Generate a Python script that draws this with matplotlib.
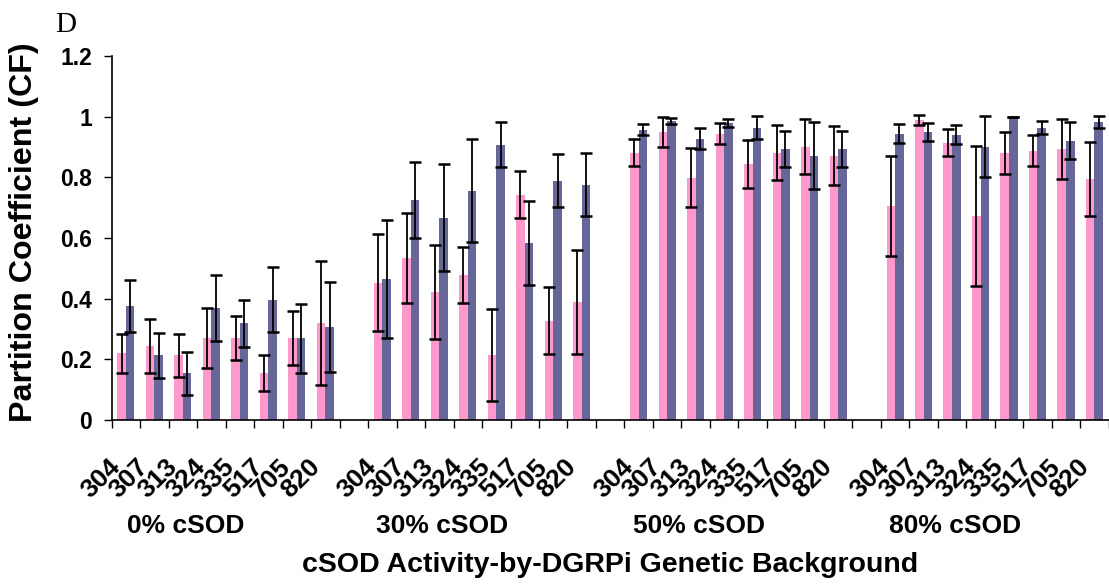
import matplotlib
matplotlib.use('Agg')
import matplotlib.pyplot as plt
import matplotlib.transforms as mtransforms
import numpy as np

strains = ['304', '307', '313', '324', '335', '517', '705', '820']
groups = ['0% cSOD', '30% cSOD', '50% cSOD', '80% cSOD']

# pink series (one value per strain, group after group)
pink_0 = [0.22, 0.244, 0.213, 0.27, 0.27, 0.154, 0.27, 0.32]
pink_30 = [0.452, 0.535, 0.422, 0.479, 0.215, 0.743, 0.327, 0.389]
pink_50 = [0.881, 0.95, 0.799, 0.944, 0.845, 0.881, 0.901, 0.871]
pink_80 = [0.706, 0.99, 0.914, 0.673, 0.881, 0.888, 0.894, 0.795]
pink_err_0 = [0.065, 0.09, 0.072, 0.098, 0.072, 0.06, 0.09, 0.205]
pink_err_30 = [0.16, 0.148, 0.155, 0.092, 0.152, 0.078, 0.11, 0.17]
pink_err_50 = [0.044, 0.05, 0.098, 0.035, 0.079, 0.091, 0.09, 0.097]
pink_err_80 = [0.164, 0.016, 0.045, 0.23, 0.07, 0.05, 0.098, 0.123]

# blue series
blue_0 = [0.376, 0.213, 0.154, 0.369, 0.319, 0.396, 0.27, 0.307]
blue_30 = [0.465, 0.726, 0.667, 0.756, 0.908, 0.583, 0.789, 0.776]
blue_50 = [0.957, 0.986, 0.927, 0.978, 0.964, 0.893, 0.871, 0.893]
blue_80 = [0.944, 0.95, 0.941, 0.901, 1.0, 0.964, 0.921, 0.983]
blue_err_0 = [0.085, 0.075, 0.07, 0.11, 0.078, 0.107, 0.114, 0.148]
blue_err_30 = [0.195, 0.126, 0.177, 0.17, 0.075, 0.139, 0.088, 0.105]
blue_err_50 = [0.019, 0.01, 0.035, 0.013, 0.038, 0.06, 0.11, 0.06]
blue_err_80 = [0.031, 0.029, 0.031, 0.1, 0.0, 0.022, 0.06, 0.02]

PINK = '#FF99CC'
BLUE = '#666699'
SANS = 'Liberation Sans'


def main():
    pink = [pink_0, pink_30, pink_50, pink_80]
    blue = [blue_0, blue_30, blue_50, blue_80]
    pink_err = [pink_err_0, pink_err_30, pink_err_50, pink_err_80]
    blue_err = [blue_err_0, blue_err_30, blue_err_50, blue_err_80]

    fig = plt.figure(figsize=(11.09, 5.86), dpi=100)
    ax = fig.add_axes([111.7 / 1109, 1 - 420 / 586, 997 / 1109, 364 / 586])

    n = len(strains)
    bw = 0.3
    centers = []
    labels = []
    for g in range(len(groups)):
        x = np.arange(n) + g * (n + 1)  # one empty slot between groups
        centers.extend(x)
        labels.extend(strains)
        ax.bar(x - bw / 2, pink[g], bw, color=PINK, zorder=2)
        ax.bar(x + bw / 2, blue[g], bw, color=BLUE, zorder=2)
        ax.errorbar(x - bw / 2, pink[g], yerr=pink_err[g], fmt='none', ecolor='black',
                    elinewidth=1.3, capsize=4, capthick=1.8, zorder=3)
        ax.errorbar(x + bw / 2, blue[g], yerr=blue_err[g], fmt='none', ecolor='black',
                    elinewidth=1.3, capsize=4, capthick=1.8, zorder=3)
        ax.text(g * (n + 1) + 2.1, -0.291, groups[g], transform=ax.get_xaxis_transform(),
                ha='center', va='center', fontsize=19, fontweight='bold', family=SANS)

    ncat = len(groups) * (n + 1) - 1
    ax.set_xlim(-0.5, ncat - 0.5)
    ax.set_ylim(0, 1.2)
    ax.set_yticks([0, 0.2, 0.4, 0.6, 0.8, 1.0, 1.2])
    ax.set_yticklabels(['0', '0.2', '0.4', '0.6', '0.8', '1', '1.2'])
    ax.set_xticks(centers)
    ax.set_xticklabels(labels, rotation=45, ha='right', va='top')
    ax.set_xticks(np.arange(ncat + 1) - 0.5, minor=True)
    ax.tick_params(axis='x', which='major', length=0, pad=25)
    ax.tick_params(axis='x', which='minor', length=6, width=1, direction='out')
    ax.tick_params(axis='y', length=6, width=1, pad=8)
    for lbl in ax.get_yticklabels():
        lbl.set_fontsize(16.5)
        lbl.set_fontweight('bold')
        lbl.set_family(SANS)
    shift = mtransforms.ScaledTranslation(-1 / 100, 0, fig.dpi_scale_trans)
    for lbl in ax.get_xticklabels():
        lbl.set_fontsize(19)
        lbl.set_fontweight('bold')
        lbl.set_family(SANS)
        lbl.set_transform(lbl.get_transform() + shift)

    ax.spines['top'].set_visible(False)
    ax.spines['right'].set_visible(False)
    ax.spines['left'].set_linewidth(1.2)
    ax.spines['bottom'].set_linewidth(1.2)

    fig.text(24 / 1109, 1 - 232.5 / 586, 'Partition Coefficient (CF)', rotation=90,
             ha='center', va='center', fontsize=23.2, fontweight='bold', family=SANS)
    fig.text(610 / 1109, 1 - 565 / 586, 'cSOD Activity-by-DGRPi Genetic Background',
             ha='center', va='center', fontsize=20.5, fontweight='bold', family=SANS)
    fig.text(55 / 1109, 1 - 12 / 586, 'D', ha='left', va='top', fontsize=21,
             family='Liberation Serif')

    fig.savefig('out.png', dpi=100)


if __name__ == '__main__':
    main()
